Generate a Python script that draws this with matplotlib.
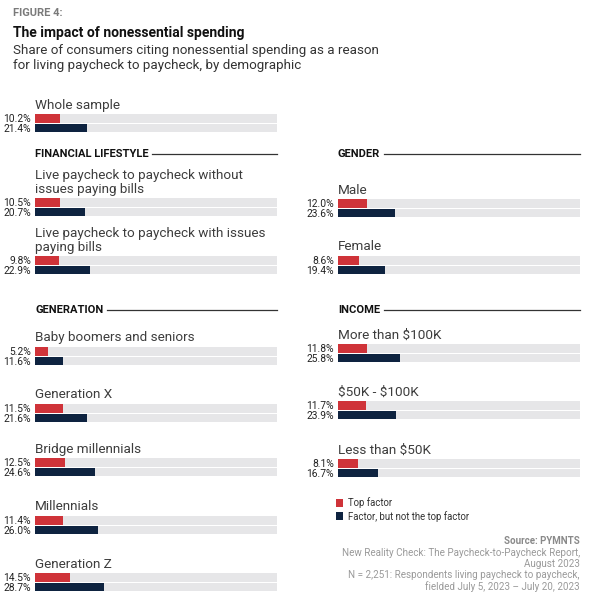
import matplotlib
matplotlib.use("Agg")
import matplotlib.pyplot as plt
from matplotlib.lines import Line2D

# ---------------- data ----------------
whole_labels = ["Whole sample"]
whole_top = [10.2]
whole_not_top = [21.4]

fin_labels = ["Live paycheck to paycheck without\nissues paying bills",
              "Live paycheck to paycheck with issues\npaying bills"]
fin_top = [10.5, 9.8]
fin_not_top = [20.7, 22.9]

gender_labels = ["Male", "Female"]
gender_top = [12.0, 8.6]
gender_not_top = [23.6, 19.4]

gen_labels = ["Baby boomers and seniors", "Generation X", "Bridge millennials",
              "Millennials", "Generation Z"]
gen_top = [5.2, 11.5, 12.5, 11.4, 14.5]
gen_not_top = [11.6, 21.6, 24.6, 26.0, 28.7]

income_labels = ["More than $100K", "$50K - $100K", "Less than $50K"]
income_top = [11.8, 11.7, 8.1]
income_not_top = [25.8, 23.9, 16.7]

series_names = ["Top factor", "Factor, but not the top factor"]

# ---------------- style ----------------
W, H = 596, 608
RED = "#cf3339"
NAVY = "#0e2340"
BG = "#e6e6e8"
LABEL_C = "#3d3d3d"
FONT = ["Roboto", "DejaVu Sans"]
NARROW = ["Liberation Sans Narrow", "Roboto", "DejaVu Sans"]
plt.rcParams["font.family"] = FONT
plt.rcParams["text.parse_math"] = False

fig = plt.figure(figsize=(W / 100, H / 100), dpi=100)
fig.patch.set_facecolor("white")


def fx(x):
    return x / W


def fy(y):
    return 1 - y / H


def make_col(x0, x1):
    ax = fig.add_axes([fx(x0), 0, (x1 - x0) / W, 1])
    ax.set_xlim(0, 100)
    ax.set_ylim(H, 0)
    ax.axis("off")
    return ax


axL = make_col(35, 277)
axR = make_col(338, 580)

BAR_H = 8.6
first = [True]


def draw_group(ax, labels, top, not_top, tops):
    for lab, t, n, y in zip(labels, top, not_top, tops):
        yr = y + BAR_H / 2
        yn = y + BAR_H + 1.2 + BAR_H / 2
        ax.barh([yr, yn], [100, 100], height=BAR_H, color=BG, left=0, zorder=1)
        kw1 = {"label": series_names[0]} if first[0] else {}
        kw2 = {"label": series_names[1]} if first[0] else {}
        first[0] = False
        ax.barh([yr], [t], height=BAR_H, color=RED, zorder=2, **kw1)
        ax.barh([yn], [n], height=BAR_H, color=NAVY, zorder=2, **kw2)
        ax.text(-1.6, yr + 0.5, f"{t:.1f}%", ha="right", va="center", fontsize=7.4,
                family=NARROW, color="#222222", clip_on=False)
        ax.text(-1.6, yn + 0.5, f"{n:.1f}%", ha="right", va="center", fontsize=7.4,
                family=NARROW, color="#222222", clip_on=False)
        ax.text(0, y - 2.5, lab, ha="left", va="bottom", fontsize=9.7,
                color=LABEL_C, linespacing=1.0, clip_on=False)


def header(ax, text, y):
    t = ax.text(0, y, text, ha="left", va="center", fontsize=8.0, fontweight="bold",
                color="#111111", clip_on=False)
    fig.canvas.draw()
    r = fig.canvas.get_renderer()
    bb = t.get_window_extent(renderer=r)
    x_end = ax.transData.inverted().transform((bb.x1, bb.y0))[0]
    ax.add_line(Line2D([x_end + 1.5, 100], [y, y], color="#333333", lw=0.9,
                       clip_on=False))


draw_group(axL, whole_labels, whole_top, whole_not_top, [114])
header(axL, "FINANCIAL LIFESTYLE", 154)
draw_group(axL, fin_labels, fin_top, fin_not_top, [198, 256])
header(axR, "GENDER", 154)
draw_group(axR, gender_labels, gender_top, gender_not_top, [199, 256])
header(axL, "GENERATION", 310)
draw_group(axL, gen_labels, gen_top, gen_not_top, [347, 404, 458, 516, 573])
header(axR, "INCOME", 310)
draw_group(axR, income_labels, income_top, income_not_top, [344, 401, 459])

# titles
fig.text(fx(13), fy(13), "FIGURE 4:", fontsize=8.0, fontweight="bold", color="#7a7a7a",
         ha="left", va="center")
fig.text(fx(13), fy(33), "The impact of nonessential spending", fontsize=10,
         fontweight="bold", color="#111111", ha="left", va="center")
fig.text(fx(13), fy(58),
         "Share of consumers citing nonessential spending as a reason\n"
         "for living paycheck to paycheck, by demographic",
         fontsize=9.6, color="#333333", ha="left", va="center", linespacing=1.2)

# legend
h, l = axL.get_legend_handles_labels()
fig.legend(h, l, loc="upper left", bbox_to_anchor=(fx(336), fy(497)), frameon=False,
           fontsize=6.9, handlelength=0.75, handleheight=0.9, handletextpad=0.45,
           labelspacing=0.3, borderpad=0, borderaxespad=0, labelcolor="#333333")

# source
fig.text(fx(580), fy(541), "Source: PYMNTS", fontsize=7.0, fontweight="bold",
         color="#8a8a8a", ha="right", va="center")
fig.text(fx(580), fy(570),
         "New Reality Check: The Paycheck-to-Paycheck Report,\nAugust 2023\n"
         "N = 2,251: Respondents living paycheck to paycheck,\n"
         "fielded July 5, 2023 \u2013 July 20, 2023",
         fontsize=7.1, color="#9a9a9a", ha="right", va="center", linespacing=1.15,
         multialignment="right")

fig.savefig("out.png", dpi=100, facecolor="white")
